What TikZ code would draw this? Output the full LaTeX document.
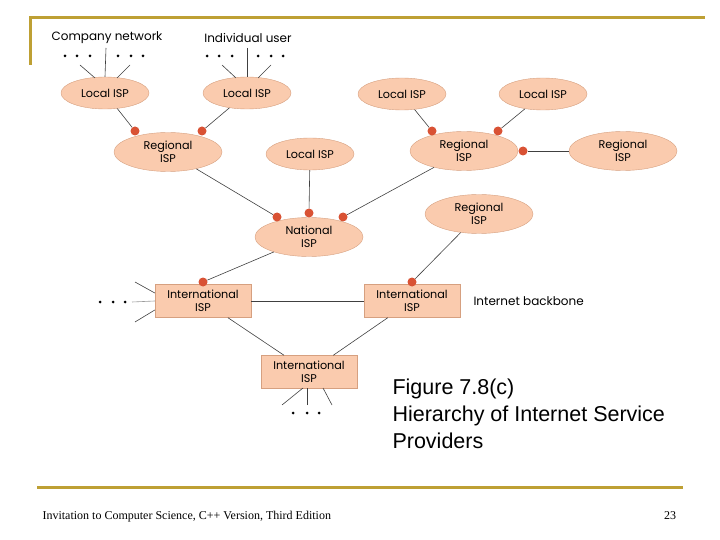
\documentclass[tikz,border=0pt]{standalone}
\usepackage{fontspec}
\setmainfont{Liberation Sans}
\newfontfamily\diagfont{Poppins}
\newfontfamily\footfont{Liberation Serif}
\usetikzlibrary{shapes.geometric}
\usetikzlibrary{positioning}
\definecolor{ispfill}{RGB}{250,203,174}
\definecolor{ispedge}{RGB}{214,160,128}
\definecolor{dotred}{RGB}{217,82,52}
\definecolor{framegold}{RGB}{190,160,52}
\tikzset{
  isp/.style={ellipse, fill=ispfill, draw=ispedge, minimum width=88pt, minimum height=32pt, inner sep=0pt,
    font=\diagfont\fontsize{11.2}{13.5}\selectfont, align=center},
  bigisp/.style={isp, minimum width=108pt, minimum height=39pt},
  intl/.style={rectangle, fill=ispfill, draw=ispedge, minimum width=96pt, minimum height=33pt, inner sep=0pt,
    font=\diagfont\fontsize{11.2}{13.5}\selectfont, align=center},
  dot/.style={circle, fill=dotred, inner sep=0pt, minimum size=9pt},
  link/.style={draw=black!75, line width=0.6pt},
  note/.style={font=\diagfont\fontsize{12}{14}\selectfont},
}
\begin{document}
\begin{tikzpicture}[x=1pt,y=-1pt]
  \useasboundingbox (0,0) rectangle (720,540);
  %slide frame
  \draw[framegold, line width=3pt] (30,65) -- (30,18) -- (705,18);
  \draw[framegold, line width=3pt] (37,487) -- (683,487);

  %ISP nodes
  \node[isp] (loca) at (105,93) {Local ISP};
  \node[isp] (locb) at (247,93) {Local ISP};
  \node[isp] (locc) at (402,94) {Local ISP};
  \node[isp] (locd) at (543,94) {Local ISP};
  \node[bigisp] (rega) at (168,152) {Regional\\ISP};
  \node[isp] (locm) at (310,154) {Local ISP};
  \node[bigisp] (regb) at (464,151) {Regional\\ISP};
  \node[bigisp] (regc) at (623,151) {Regional\\ISP};
  \node[bigisp] (regd) at (479,214) {Regional\\ISP};
  \node[bigisp] (nat) at (309,237) {National\\ISP};
  \node[intl] (intla) at (203,301) {International\\ISP};
  \node[intl] (intlb) at (412,301) {International\\ISP};
  \node[intl] (intlc) at (309,372) {International\\ISP};

  %connection points
  \node[dot] (ra1) at (135,131) {};
  \node[dot] (ra2) at (202,131) {};
  \node[dot] (rb1) at (432,131) {};
  \node[dot] (rb2) at (498,131) {};
  \node[dot] (rb3) at (523,151) {};
  \node[dot] (na) at (277,217) {};
  \node[dot] (nb) at (309,213) {};
  \node[dot] (nc) at (343,217) {};
  \node[dot] (ia) at (203,282) {};
  \node[dot] (ib) at (412,282) {};

  %labels
  \node[note] (comp) at (107,38) {Company network};
  \node[note] (indiv) at (248,38) {Individual user};
  \node[note, anchor=west] (backbone) at (470,301) {Internet backbone};

  %users
  \foreach \x in {65,77,90,118,131,143,207,219,232,258,271,283}
    \fill (\x,56) circle (1.5);
  \coordinate (ca1) at (80,65);
  \coordinate (ca2) at (106,48);
  \coordinate (ca3) at (130,65);
  \coordinate (cb1) at (222,65);
  \coordinate (cb2) at (247,48);
  \coordinate (cb3) at (271,65);
  \draw[link] (ca1) -- (95,78);
  \draw[link] (ca2) -- (loca.north);
  \draw[link] (ca3) -- (117,78);
  \draw[link] (cb1) -- (236,78);
  \draw[link] (cb2) -- (locb.north);
  \draw[link] (cb3) -- (258,78);

  %tree links
  \draw[link] (loca) -- (ra1);
  \draw[link] (locb) -- (ra2);
  \draw[link] (locc) -- (rb1);
  \draw[link] (locd) -- (rb2);
  \draw[link] (regc) -- (rb3);
  \draw[link] (rega) -- (na);
  \draw[link] (locm) -- (nb);
  \draw[link] (regb) -- (nc);
  \draw[link] (nat) -- (ia);
  \draw[link] (regd) -- (ib);

  %backbone
  \draw[link] (intla) -- (intlb);
  \draw[link] (intla) -- (intlc);
  \draw[link] (intlb) -- (intlc);

  %outer ends
  \coordinate (la1) at (135,282);
  \coordinate (la2) at (132,302);
  \coordinate (la3) at (135,322);
  \draw[link] (la1) -- (intla.north west |- 0,293);
  \draw[link, draw=black!40] (la2) -- (intla.west);
  \draw[link] (la3) -- (intla.north west |- 0,310);
  \foreach \x in {100,113,125}
    \fill (\x,302) circle (1.5);
  \coordinate (lc1) at (282,405);
  \coordinate (lc2) at (307,405);
  \coordinate (lc3) at (332,405);
  \draw[link] (lc1) -- (303,388);
  \draw[link] (lc2) -- (307,388);
  \draw[link] (lc3) -- (323,388);
  \foreach \x in {293,307,319}
    \fill (\x,413) circle (1.5);

  %caption
  \node[anchor=north west, align=left, font=\fontsize{21.5}{27}\selectfont] (cap) at (389,375)
    {Figure 7.8(c)\\Hierarchy of Internet Service\\Providers};

  %footer
  \node[anchor=west, font=\footfont\fontsize{12}{14}\selectfont] (foot) at (39,517)
    {Invitation to Computer Science, C++ Version, Third Edition};
  \node[font=\footfont\fontsize{12}{14}\selectfont] (page) at (670,516) {23};
\end{tikzpicture}
\end{document}
